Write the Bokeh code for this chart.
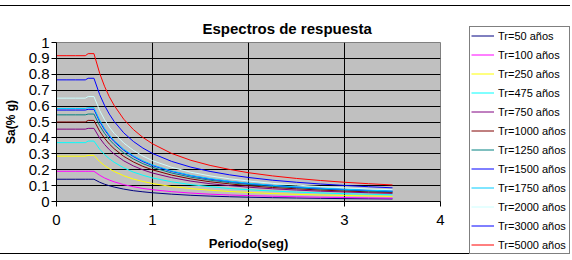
from bokeh.plotting import figure
from bokeh.models import Legend, LegendItem, FixedTicker, Range1d, Title
from bokeh.layouts import row
from bokeh.embed import file_html
from bokeh.resources import INLINE

# ---- data ----
periods = [0, 0.1, 0.2, 0.3, 0.33, 0.39, 0.45, 0.5, 0.55, 0.6, 0.7, 0.8, 0.9, 1.0,
           1.2, 1.4, 1.6, 1.8, 2.0, 2.25, 2.5, 2.75, 3.0, 3.25, 3.5]

sa_50 = [0.14, 0.14, 0.14, 0.14, 0.14, 0.14, 0.121, 0.109, 0.099, 0.091, 0.078, 0.068, 0.061,
         0.055, 0.046, 0.039, 0.034, 0.030, 0.027, 0.024, 0.022, 0.020, 0.018, 0.017, 0.016]
sa_100 = [0.19, 0.19, 0.19, 0.19, 0.19, 0.19, 0.165, 0.148, 0.135, 0.124, 0.106, 0.093, 0.082,
          0.074, 0.062, 0.053, 0.046, 0.041, 0.037, 0.033, 0.030, 0.027, 0.025, 0.023, 0.021]
sa_250 = [0.285, 0.285, 0.285, 0.285, 0.29, 0.29, 0.251, 0.226, 0.206, 0.189, 0.162, 0.141, 0.126,
          0.113, 0.094, 0.081, 0.071, 0.063, 0.057, 0.050, 0.045, 0.041, 0.038, 0.035, 0.032]
sa_475 = [0.37, 0.37, 0.37, 0.37, 0.38, 0.38, 0.329, 0.296, 0.269, 0.247, 0.212, 0.185, 0.165,
          0.148, 0.124, 0.106, 0.093, 0.082, 0.074, 0.066, 0.059, 0.054, 0.049, 0.046, 0.042]
sa_750 = [0.455, 0.455, 0.455, 0.455, 0.46, 0.46, 0.399, 0.359, 0.326, 0.299, 0.256, 0.224, 0.199,
          0.179, 0.150, 0.128, 0.112, 0.100, 0.090, 0.080, 0.072, 0.065, 0.060, 0.055, 0.051]
sa_1000 = [0.50, 0.50, 0.50, 0.50, 0.51, 0.51, 0.442, 0.398, 0.362, 0.332, 0.284, 0.249, 0.221,
           0.199, 0.166, 0.142, 0.124, 0.111, 0.099, 0.088, 0.080, 0.072, 0.066, 0.061, 0.057]
sa_1250 = [0.545, 0.545, 0.545, 0.545, 0.55, 0.55, 0.477, 0.429, 0.390, 0.358, 0.306, 0.268, 0.238,
           0.215, 0.179, 0.153, 0.134, 0.119, 0.107, 0.095, 0.086, 0.078, 0.072, 0.066, 0.061]
sa_1500 = [0.575, 0.575, 0.575, 0.575, 0.58, 0.58, 0.503, 0.452, 0.411, 0.377, 0.323, 0.283, 0.251,
           0.226, 0.189, 0.162, 0.141, 0.126, 0.113, 0.101, 0.090, 0.082, 0.075, 0.070, 0.065]
sa_1750 = [0.585, 0.585, 0.585, 0.585, 0.59, 0.59, 0.511, 0.460, 0.418, 0.384, 0.329, 0.288, 0.256,
           0.230, 0.192, 0.164, 0.144, 0.128, 0.115, 0.102, 0.092, 0.084, 0.077, 0.071, 0.066]
sa_2000 = [0.65, 0.65, 0.65, 0.65, 0.66, 0.66, 0.572, 0.515, 0.468, 0.429, 0.368, 0.322, 0.286,
           0.257, 0.215, 0.184, 0.161, 0.143, 0.129, 0.114, 0.103, 0.094, 0.086, 0.079, 0.074]
sa_3000 = [0.765, 0.765, 0.765, 0.765, 0.775, 0.775, 0.672, 0.605, 0.550, 0.504, 0.432, 0.378, 0.336,
           0.302, 0.252, 0.216, 0.189, 0.168, 0.151, 0.134, 0.121, 0.110, 0.101, 0.093, 0.086]
sa_5000 = [0.917, 0.917, 0.917, 0.917, 0.93, 0.93, 0.806, 0.725, 0.659, 0.605, 0.518, 0.453, 0.403,
           0.363, 0.302, 0.259, 0.227, 0.202, 0.181, 0.161, 0.145, 0.132, 0.121, 0.112, 0.104]

series_labels = ["Tr=50 años", "Tr=100 años", "Tr=250 años", "Tr=475 años", "Tr=750 años",
                 "Tr=1000 años", "Tr=1250 años", "Tr=1500 años", "Tr=1750 años",
                 "Tr=2000 años", "Tr=3000 años", "Tr=5000 años"]
series_values = [sa_50, sa_100, sa_250, sa_475, sa_750, sa_1000, sa_1250, sa_1500,
                 sa_1750, sa_2000, sa_3000, sa_5000]
series_colors = ["#000080", "#FF00FF", "#FFFF00", "#00FFFF", "#800080", "#800000",
                 "#008080", "#0000FF", "#00CCFF", "#CCFFFF", "#0000FF", "#FF0000"]

x_ticks = [0, 1, 2, 3, 4]
x_tick_labels = ["0", "1", "2", "3", "4"]
y_ticks = [0, 0.1, 0.2, 0.3, 0.4, 0.5, 0.6, 0.7, 0.8, 0.9, 1.0]
y_tick_labels = ["0", "0.1", "0.2", "0.3", "0.4", "0.5", "0.6", "0.7", "0.8", "0.9", "1"]

title_text = "Espectros de respuesta"
x_title = "Periodo(seg)"
y_title = "Sa(% g)"

FONT = "Liberation Sans"
H = 247

p = figure(width=570, height=H, output_backend="svg", toolbar_location=None,
           x_range=Range1d(0, 4), y_range=Range1d(0, 1))
p.min_border = 0
p.min_border_left = 55
p.min_border_right = 130
p.min_border_top = 36
p.min_border_bottom = 51
p.background_fill_color = "#C0C0C0"
p.border_fill_color = "white"
p.outline_line_color = "#808080"
p.outline_line_width = 1

p.title = Title(text=title_text, align="left", offset=146, standoff=10,
                vertical_align="middle",
                text_font=FONT, text_font_size="15px", text_font_style="bold",
                text_color="black")

# grids
p.xgrid.ticker = FixedTicker(ticks=[1, 2, 3])
p.ygrid.ticker = FixedTicker(ticks=[0.1, 0.2, 0.3, 0.4, 0.5, 0.6, 0.7, 0.8, 0.9])
for g in (p.xgrid[0], p.ygrid[0]):
    g.grid_line_color = "black"
    g.grid_line_width = 1
    g.grid_line_alpha = 1

# axes
xa = p.xaxis[0]
ya = p.yaxis[0]
xa.ticker = FixedTicker(ticks=x_ticks)
ya.ticker = FixedTicker(ticks=y_ticks)
xa.major_label_overrides = {t: s for t, s in zip(x_ticks, x_tick_labels)}
ya.major_label_overrides = {t: s for t, s in zip(y_ticks, y_tick_labels)}
for ax in (xa, ya):
    ax.axis_line_color = "black"
    ax.major_tick_line_color = "black"
    ax.major_tick_out = 5
    ax.major_tick_in = 0
    ax.minor_tick_out = 0
    ax.minor_tick_in = 0
    ax.major_label_text_font = FONT
    ax.major_label_text_font_size = "15px"
    ax.major_label_text_color = "black"
    ax.axis_label_text_font = FONT
    ax.axis_label_text_font_style = "bold"
    ax.axis_label_text_color = "black"
xa.major_label_standoff = 8
ya.major_label_standoff = 2
xa.axis_label = x_title
ya.axis_label = y_title
xa.axis_label_text_font_size = "13px"
ya.axis_label_text_font_size = "12px"
xa.axis_label_standoff = 8
ya.axis_label_standoff = 8

# series
for vals, col in zip(series_values, series_colors):
    p.line(periods, vals, line_color=col, line_width=1)

main = row(p, spacing=0,
           styles={"border-top": "1px solid black", "border-bottom": "1px solid black",
                   "margin-top": "5px"})

# legend: its own small figure (separate root), placed over the right margin of the chart
q = figure(width=102, height=229, output_backend="svg", toolbar_location=None,
           x_range=Range1d(10, 11), y_range=Range1d(10, 11),
           styles={"position": "absolute", "left": "468px", "top": "26px"})
q.min_border = 0
q.axis.visible = False
q.grid.visible = False
q.outline_line_color = None
q.background_fill_color = None
q.border_fill_color = None
items = []
for lab, vals, col in zip(series_labels, series_values, series_colors):
    r = q.line(periods, vals, line_color=col, line_width=1)
    items.append(LegendItem(label=lab, renderers=[r]))
legend = Legend(items=items, location=(1, 1), orientation="vertical",
                border_line_color="black", border_line_width=1,
                background_fill_color="white", background_fill_alpha=1,
                padding=1, spacing=4, margin=0,
                glyph_width=23, glyph_height=15, label_height=15, label_width=70,
                label_standoff=4,
                label_text_font=FONT, label_text_font_size="11px",
                label_text_color="black")
q.add_layout(legend)

open("out.html", "w").write(file_html([main, q], INLINE))
